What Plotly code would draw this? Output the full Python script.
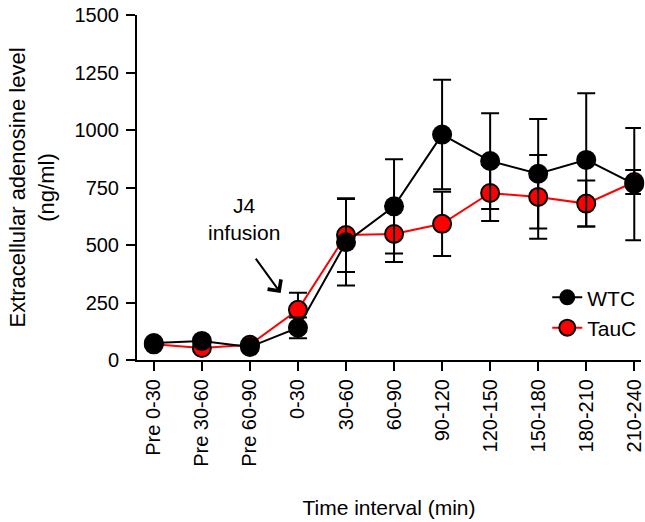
import plotly.graph_objects as go

categories = ["Pre 0-30", "Pre 30-60", "Pre 60-90", "0-30", "30-60", "60-90",
              "90-120", "120-150", "150-180", "180-210", "210-240"]
wtc_mean = [74, 83, 57, 140, 512, 668, 980, 865, 810, 870, 765]
wtc_err = [12, 12, 10, 45, 188, 205, 238, 208, 238, 290, 244]
tauc_mean = [68, 52, 66, 218, 543, 548, 592, 726, 709, 680, 774]
tauc_err = [10, 10, 10, 74, 160, 122, 140, 122, 182, 100, 52]
y_ticks = [0, 250, 500, 750, 1000, 1250, 1500]

FONT = "Liberation Sans, Arial, sans-serif"
x_idx = list(range(len(categories)))

fig = go.Figure()
fig.add_trace(go.Scatter(
    x=x_idx, y=tauc_mean, name="TauC", mode="lines+markers",
    line=dict(color="#ff0000", width=2),
    marker=dict(color="#ff0000", size=18, line=dict(color="black", width=2)),
    error_y=dict(type="data", array=tauc_err, color="black", thickness=2, width=9),
    cliponaxis=False, legendrank=2,
))
fig.add_trace(go.Scatter(
    x=x_idx, y=wtc_mean, name="WTC", mode="lines+markers",
    line=dict(color="black", width=2),
    marker=dict(color="black", size=20, line=dict(color="black", width=0)),
    error_y=dict(type="data", array=wtc_err, color="black", thickness=2, width=9),
    cliponaxis=False, legendrank=1,
))

fig.update_layout(
    width=645, height=522,
    margin=dict(l=137, r=0, t=15, b=162),
    paper_bgcolor="white", plot_bgcolor="white",
    font=dict(family=FONT, color="black", size=20),
    showlegend=True,
    legend=dict(x=0.814, y=0.24, xanchor="left", yanchor="top",
                bgcolor="rgba(0,0,0,0)", font=dict(size=21),
                tracegroupgap=0, itemwidth=30),
    xaxis=dict(
        range=[-0.35, 10.14], tickmode="array", tickvals=x_idx, ticktext=categories,
        tickangle=-90, showline=True, linecolor="black", linewidth=2,
        ticks="outside", ticklen=9, tickwidth=2, tickcolor="black",
        showgrid=False, zeroline=False, tickfont=dict(size=20),
        ticklabeloverflow="allow",
        title=dict(text="Time interval (min)", font=dict(size=21), standoff=34),
    ),
    yaxis=dict(
        range=[0, 1500], tickvals=y_ticks, showline=True, linecolor="black", linewidth=2,
        ticks="outside", ticklen=9, tickwidth=2, tickcolor="black",
        showgrid=False, zeroline=False, tickfont=dict(size=20),
        ticklabelstandoff=3,
        title=dict(text="Extracellular adenosine level<br>(ng/ml)", font=dict(size=22), standoff=14),
    ),
)

fig.add_annotation(x=1.88, y=615, xref="x", yref="y", text="J4<br>infusion",
                   showarrow=False, font=dict(size=21))
fig.add_annotation(x=2.64, y=291, xref="x", yref="y", text="", showarrow=True,
                   ax=-26, ay=-36, arrowhead=4, arrowsize=1.6, arrowwidth=2,
                   arrowcolor="black")

fig.write_html("out.html")
